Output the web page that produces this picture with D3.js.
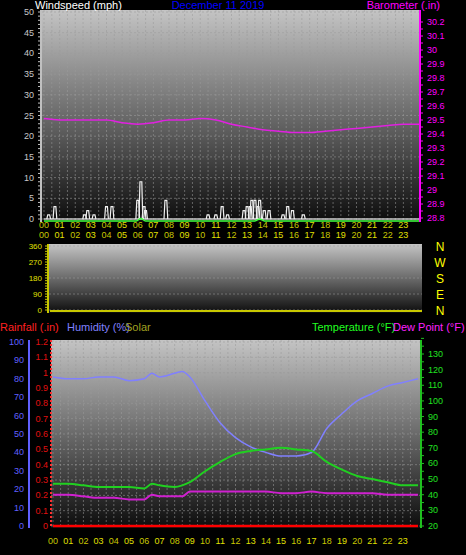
<!DOCTYPE html>
<html>
<head>
<meta charset="utf-8">
<script src="https://cdn.jsdelivr.net/npm/d3@7"></script>
<style>
  body { margin: 0; background: #000; }
  svg { display: block; font-family: "Liberation Sans", Arial, sans-serif; }
</style>
</head>
<body>
<svg id="chart" width="466" height="555"></svg>
<script>
// hour-of-day samples
const hours = [0,1,2,3,4,5,6,6.5,7,8,8.5,9,10,11,12,13,14,15,16,17,18,19,20,21,22,23,24];
const humidity = [81,80,80,81,81,79,80,83,81,83,84,81,68,56,48,43,40,38,38,40,53,61,68,72,76,78,80];
const temperature = [47,47,46,45,45,45,44,47,46,45,46,48,55,61,66,68,69,70,69,68,61,56,52,50,48,46,46];
const dewPoint = [40,40,39,38,38,37,37,40,39,39,39,42,42,42,42,42,42,41,41,42,41,41,41,41,40,40,40];
const rainfall = hours.map(() => 0);

const baroHours = [0,1,2,3,4,5,6,7,8,9,10,11,12,13,14,15,16,17,18,19,20,21,22,23,24];
const barometer = [29.51,29.50,29.50,29.50,29.50,29.48,29.47,29.48,29.50,29.50,29.51,29.50,29.47,29.45,29.43,29.42,29.41,29.41,29.42,29.43,29.44,29.45,29.46,29.47,29.47];

// gust spikes [hour, mph]
const gusts = [[0.3,1],[0.7,3],[2.6,1],[2.8,2],[3.2,1],[4.0,3],[4.35,3],[6.0,4.5],[6.2,9],[6.4,3],[6.5,2],
  [7.8,4.5],[10.5,1],[11.0,1],[11.4,3],[11.75,1],[12.8,2],[13.0,3],[13.2,3],[13.3,4.5],[13.5,4.5],
  [13.7,3],[13.8,4.5],[14.1,2],[14.4,2],[15.3,1],[15.6,3],[15.9,2],[16.6,1]];
const avgWindHours = [0,5.9,6.2,6.5,13.5,13.8,14.1,24];
const avgWind = [0,0,0.6,0,0,0.5,0,0];

const hourLabels = d3.range(24).map(h => String(h).padStart(2, "0"));
const windTicks = d3.range(0, 51, 5);
const baroTicks = d3.range(28.8, 30.25, 0.1).map(v => +v.toFixed(1));
const dirTicks = [0, 90, 180, 270, 360];
const dirNames = ["N", "W", "S", "E", "N"];
const humTicks = d3.range(0, 101, 10);
const rainTicks = d3.range(0, 1.25, 0.1).map(v => +v.toFixed(1));
const tempTicks = d3.range(20, 131, 10);

const svg = d3.select("#chart");
const defs = svg.append("defs");
const grad = defs.append("linearGradient").attr("id", "bg").attr("x1", 0).attr("y1", 0).attr("x2", 0).attr("y2", 1);
grad.append("stop").attr("offset", 0).attr("stop-color", "#c4c4c4");
grad.append("stop").attr("offset", 0.5).attr("stop-color", "#6a6a6a");
grad.append("stop").attr("offset", 1).attr("stop-color", "#0c0c0c");

function panel(x0, x1, y0, y1) {
  svg.append("rect").attr("x", x0).attr("y", y0).attr("width", x1 - x0).attr("height", y1 - y0)
    .attr("fill", "url(#bg)");
}
function grid(x, y, xs, ys, x0, x1, y0, y1) {
  const g = svg.append("g").attr("stroke", "#9a9a9a").attr("stroke-opacity", 0.55)
    .attr("stroke-dasharray", "2,2").attr("stroke-width", 1);
  xs.forEach(v => g.append("line").attr("x1", x(v)).attr("x2", x(v)).attr("y1", y0).attr("y2", y1));
  ys.forEach(v => g.append("line").attr("x1", x0).attr("x2", x1).attr("y1", y(v)).attr("y2", y(v)));
}
function hourAxis(x, yy) {
  svg.append("g").selectAll("text").data(hourLabels).join("text")
    .attr("x", (d, i) => x(i)).attr("y", yy).attr("text-anchor", "middle")
    .attr("font-size", 9).attr("fill", (d, i) => i % 2 ? "#e0e000" : "#c8c800").text(d => d);
}
function tickLabels(vals, y, xx, anchor, color, fmt, size) {
  svg.append("g").selectAll("text").data(vals).join("text")
    .attr("x", xx).attr("y", d => y(d) + 3).attr("text-anchor", anchor)
    .attr("font-size", size || 9).attr("fill", color).text(fmt || (d => d));
}
function axisLine(xx, y0, y1, color, minor, y, dir) {
  const g = svg.append("g").attr("stroke", color);
  g.append("line").attr("x1", xx).attr("x2", xx).attr("y1", y0).attr("y2", y1).attr("stroke-width", 2);
  minor.forEach(v => g.append("line").attr("x1", xx).attr("x2", xx + dir * 3).attr("y1", y(v)).attr("y2", y(v)));
}
const fmt1 = d => d3.format(".1f")(d).replace(/\.0$/, "");

// ---------- Top panel: wind + barometer ----------
const xTop = d3.scaleLinear().domain([0, 24]).range([44, 419]);
const yWind = d3.scaleLinear().domain([0, 50]).range([219, 12]);
const yBaro = d3.scaleLinear().domain([28.8, 30.2]).range([218, 22]);
panel(42, 419, 10, 222);
grid(xTop, yWind, d3.range(0, 24, 0.5), windTicks, 42, 419, 10, 222);
axisLine(41, 10, 222, "#c0c0c0", d3.range(0, 51, 1), yWind, -1);
axisLine(420, 10, 222, "#ff00ff", d3.range(28.8, 30.25, 0.05), yBaro, 1);
tickLabels(windTicks, yWind, 34, "end", "#c8c8c8");
tickLabels(baroTicks, yBaro, 427, "start", "#ff00ff", fmt1);

svg.append("line").attr("x1", 44).attr("x2", 419).attr("y1", yWind(0)).attr("y2", yWind(0))
  .attr("stroke", "#c8c8c8").attr("stroke-width", 1.5);
svg.append("g").selectAll("path").data(gusts).join("path")
  .attr("d", d => d3.line()([[xTop(d[0] - 0.12), yWind(0)], [xTop(d[0] - 0.06), yWind(d[1])],
    [xTop(d[0] + 0.06), yWind(d[1])], [xTop(d[0] + 0.12), yWind(0)]]))
  .attr("fill", "none").attr("stroke", "#f0f0f0").attr("stroke-width", 1.2);
svg.append("path").datum(avgWindHours.map((h, i) => [h, avgWind[i]]))
  .attr("d", d3.line().x(d => xTop(d[0])).y(d => yWind(d[1]) + 2).curve(d3.curveMonotoneX))
  .attr("fill", "none").attr("stroke", "#40ff40").attr("stroke-width", 1.5);
svg.append("path").datum(baroHours.map((h, i) => [h, barometer[i]]))
  .attr("d", d3.line().x(d => xTop(d[0])).y(d => yBaro(d[1])).curve(d3.curveMonotoneX))
  .attr("fill", "none").attr("stroke", "#e020e0").attr("stroke-width", 1.5);
hourAxis(xTop, 228);

svg.append("text").attr("x", 35).attr("y", 9).attr("font-size", 11).attr("fill", "#fff").text("Windspeed (mph)");
svg.append("text").attr("x", 218).attr("y", 9).attr("text-anchor", "middle").attr("font-size", 11).attr("fill", "#0000ff").text("December 11 2019");
svg.append("text").attr("x", 440).attr("y", 9).attr("text-anchor", "end").attr("font-size", 11).attr("fill", "#ff00ff").text("Barometer (.in)");

// ---------- Middle panel: wind direction ----------
const yDir = d3.scaleLinear().domain([0, 360]).range([310, 246]);
panel(49, 422, 244, 313);
grid(xTop, yDir, [], dirTicks, 49, 422, 244, 313);
axisLine(48, 244, 313, "#c8c800", d3.range(0, 361, 15), yDir, -1);
tickLabels(dirTicks, yDir, 42, "end", "#e0e000", null, 8);
svg.append("line").attr("x1", 50).attr("x2", 422).attr("y1", 311).attr("y2", 311)
  .attr("stroke", "#c8c800").attr("stroke-width", 2);
svg.append("g").selectAll("text").data(dirNames).join("text")
  .attr("x", 440).attr("y", (d, i) => yDir(dirTicks[4 - i]) + 5).attr("text-anchor", "middle")
  .attr("font-size", 12).attr("fill", "#ffff00").text(d => d);
hourAxis(xTop, 238);

// ---------- Bottom panel: humidity, rain, temperature ----------
svg.append("text").attr("x", 0).attr("y", 331).attr("font-size", 11).attr("fill", "#ff2020").text("Rainfall (.in)");
svg.append("text").attr("x", 67).attr("y", 331).attr("font-size", 11).attr("fill", "#8080ff").text("Humidity (%)");
svg.append("text").attr("x", 125).attr("y", 331).attr("font-size", 11).attr("fill", "#a0a020").text("Solar");
svg.append("text").attr("x", 312).attr("y", 331).attr("font-size", 11).attr("fill", "#20ff20").text("Temperature (°F)");
svg.append("text").attr("x", 393).attr("y", 331).attr("font-size", 11).attr("fill", "#ff20ff").text("Dew Point (°F)");

const xBot = d3.scaleLinear().domain([0, 24]).range([53, 418]);
const yHum = d3.scaleLinear().domain([0, 100]).range([526, 342]);
const yRain = d3.scaleLinear().domain([0, 1.2]).range([526, 342]);
const yTemp = d3.scaleLinear().domain([20, 130]).range([526, 354]);
panel(51, 421, 340, 528);
grid(xBot, yRain, d3.range(0, 24, 0.5), rainTicks, 51, 421, 340, 528);
axisLine(29, 340, 528, "#6060ff", [], yHum, -1);
svg.append("line").attr("x1", 51).attr("x2", 51).attr("y1", 340).attr("y2", 528)
  .attr("stroke", "#ff3030").attr("stroke-dasharray", "2,2").attr("stroke-width", 2);
axisLine(421, 340, 528, "#20c020", d3.range(20, 141, 5), yTemp, 1);
tickLabels(humTicks, yHum, 24, "end", "#6060ff");
tickLabels(rainTicks, yRain, 48, "end", "#e01010", fmt1);
tickLabels(tempTicks, yTemp, 428, "start", "#20e020");

const line = (ys, yScale) => d3.line().x((d, i) => xBot(hours[i])).y(d => yScale(d)).curve(d3.curveMonotoneX)(ys);
svg.append("path").attr("d", line(humidity, yHum)).attr("fill", "none").attr("stroke", "#8080ff").attr("stroke-width", 1.5);
svg.append("path").attr("d", line(temperature, yTemp)).attr("fill", "none").attr("stroke", "#20d020").attr("stroke-width", 2);
svg.append("path").attr("d", line(dewPoint, yTemp)).attr("fill", "none").attr("stroke", "#d020d0").attr("stroke-width", 2);
svg.append("path").attr("d", line(rainfall, yRain)).attr("fill", "none").attr("stroke", "#ff0000").attr("stroke-width", 2.5);
hourAxis(xBot, 544);
</script>
</body>
</html>
